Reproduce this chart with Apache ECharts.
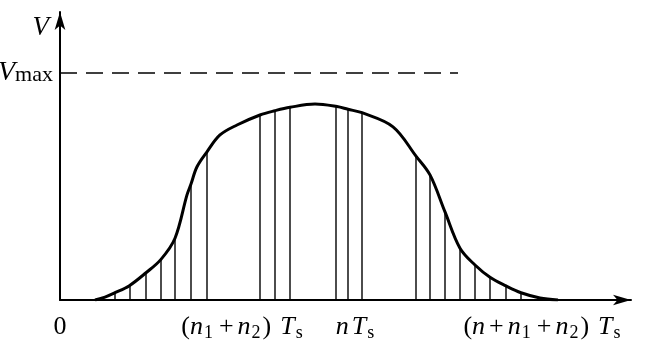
<!DOCTYPE html>
<html>
<head>
<meta charset="utf-8">
<script src="https://cdn.jsdelivr.net/npm/echarts@6/dist/echarts.min.js"></script>
<style>
html,body{margin:0;padding:0;background:#fff;}
#chart{width:650px;height:343px;}
</style>
</head>
<body>
<div id="chart"></div>
<script>
// Velocity profile (V normalised to Vmax = 1), time in sample units
const curveX = [3.5, 4.5, 5.5, 6.9, 8.6, 10.1, 11.5, 12.7, 13.1, 13.7, 14.7, 16.0, 17.7, 20.0, 21.5, 23.0, 25.5, 27.7, 28.8, 30.2, 33.3, 35.6, 37.0, 38.5, 40.0, 41.5, 43.0, 44.6, 46.1, 48.0, 49.8];
const curveV = [0, 0.013, 0.032, 0.062, 0.120, 0.179, 0.272, 0.463, 0.511, 0.587, 0.653, 0.727, 0.771, 0.815, 0.834, 0.849, 0.863, 0.852, 0.840, 0.825, 0.763, 0.634, 0.551, 0.388, 0.228, 0.154, 0.100, 0.062, 0.032, 0.009, 0];

// Sampling instants (vertical lines) and their heights
const sampleX = [5.5, 7.0, 8.6, 10.1, 11.5, 13.1, 14.7, 20.0, 21.5, 23.0, 27.6, 28.8, 30.2, 35.6, 37.0, 38.5, 40.0, 41.5, 43.0, 44.6, 46.1];
const sampleV = [0.032, 0.065, 0.120, 0.179, 0.272, 0.511, 0.653, 0.815, 0.834, 0.849, 0.852, 0.840, 0.825, 0.634, 0.551, 0.388, 0.228, 0.154, 0.100, 0.062, 0.032];

// Vmax reference line
const vmax = 1;
const vmaxLineEnd = 39.8;

// Tick labels
const xTicks = [0, 18.3, 29.6, 48.3];
const xTickLabels = [
  '{r|0}',
  '{r|(}{i|n}{s|1}{p|+}{i|n}{s|2}{r|)}{t|T}{s|s}',
  '{i|n}{u|T}{s|s}',
  '{r|(}{i|n}{p|+}{i|n}{s|1}{p|+}{i|n}{s|2}{r|)}{t|T}{s|s}'
];
const yTicks = [vmax];
const yTickLabels = ['{v|V}{m|max}'];
const yAxisName = 'V';

const serif = '"Liberation Serif", "DejaVu Serif", serif';

const chart = echarts.init(document.getElementById('chart'));
const curveData = curveX.map((x, i) => [x, curveV[i]]);
const sampleData = sampleX.map((x, i) => [x, sampleV[i]]);

chart.setOption({
  animation: false,
  backgroundColor: '#fff',
  grid: { left: 60, right: 19, top: 12, bottom: 43, containLabel: false, outerBoundsMode: 'none' },
  xAxis: {
    type: 'value', min: 0, max: 57.1,
    axisLine: { show: true, onZero: false, symbol: ['none', 'arrow'], symbolSize: [8, 18],
      lineStyle: { color: '#000', width: 2 } },
    axisTick: { show: false },
    splitLine: { show: false },
    axisLabel: {
      customValues: xTicks,
      margin: 12,
      formatter: function (v) { const i = xTicks.indexOf(v); return i >= 0 ? xTickLabels[i] : ''; },
      rich: {
        r: { fontFamily: serif, fontSize: 26, color: '#000', lineHeight: 30, verticalAlign: 'middle' },
        p: { fontFamily: serif, fontSize: 26, color: '#000', lineHeight: 30, verticalAlign: 'middle', padding: [0, 4, 0, 4] },
        i: { fontFamily: serif, fontSize: 26, fontStyle: 'italic', color: '#000', lineHeight: 30, verticalAlign: 'middle' },
        t: { fontFamily: serif, fontSize: 26, fontStyle: 'italic', color: '#000', lineHeight: 30, verticalAlign: 'middle', padding: [0, 0, 0, 9] },
        u: { fontFamily: serif, fontSize: 26, fontStyle: 'italic', color: '#000', lineHeight: 30, verticalAlign: 'middle', padding: [0, 0, 0, 3] },
        s: { fontFamily: serif, fontSize: 18, color: '#000', lineHeight: 18, verticalAlign: 'bottom', padding: [0, 2, 0, 1] }
      }
    }
  },
  yAxis: {
    type: 'value', min: 0, max: 1.2687,
    name: yAxisName,
    nameLocation: 'end',
    nameGap: -2,
    nameTextStyle: { fontFamily: serif, fontSize: 27, fontStyle: 'italic', color: '#000', align: 'right', verticalAlign: 'top', padding: [0, 11, 0, 0] },
    axisLine: { show: true, onZero: false, symbol: ['none', 'arrow'], symbolSize: [8, 18],
      lineStyle: { color: '#000', width: 2 } },
    axisTick: { show: false },
    splitLine: { show: false },
    axisLabel: {
      customValues: yTicks,
      margin: 7,
      formatter: function (v) { const i = yTicks.indexOf(v); return i >= 0 ? yTickLabels[i] : ''; },
      rich: {
        v: { fontFamily: serif, fontSize: 28, fontStyle: 'italic', color: '#000', lineHeight: 28, verticalAlign: 'bottom' },
        m: { fontFamily: serif, fontSize: 22, color: '#000', lineHeight: 22, verticalAlign: 'bottom', padding: [0, 0, 1, 0] }
      }
    }
  },
  series: [
    {
      type: 'custom',
      z: 1,
      data: sampleData,
      renderItem: function (params, api) {
        const p0 = api.coord([api.value(0), 0]);
        const p1 = api.coord([api.value(0), api.value(1)]);
        return { type: 'line', shape: { x1: p0[0], y1: p0[1], x2: p1[0], y2: p1[1] },
          style: { stroke: '#000', lineWidth: 1.4 } };
      }
    },
    {
      type: 'line',
      z: 3,
      data: [[0, vmax], [vmaxLineEnd, vmax]],
      symbol: 'none',
      lineStyle: { color: '#000', width: 1.6, type: [17, 9] }
    },
    {
      type: 'line',
      z: 5,
      data: curveData,
      smooth: 0.35,
      symbol: 'none',
      lineStyle: { color: '#000', width: 3 }
    }
  ]
});
</script>
</body>
</html>
